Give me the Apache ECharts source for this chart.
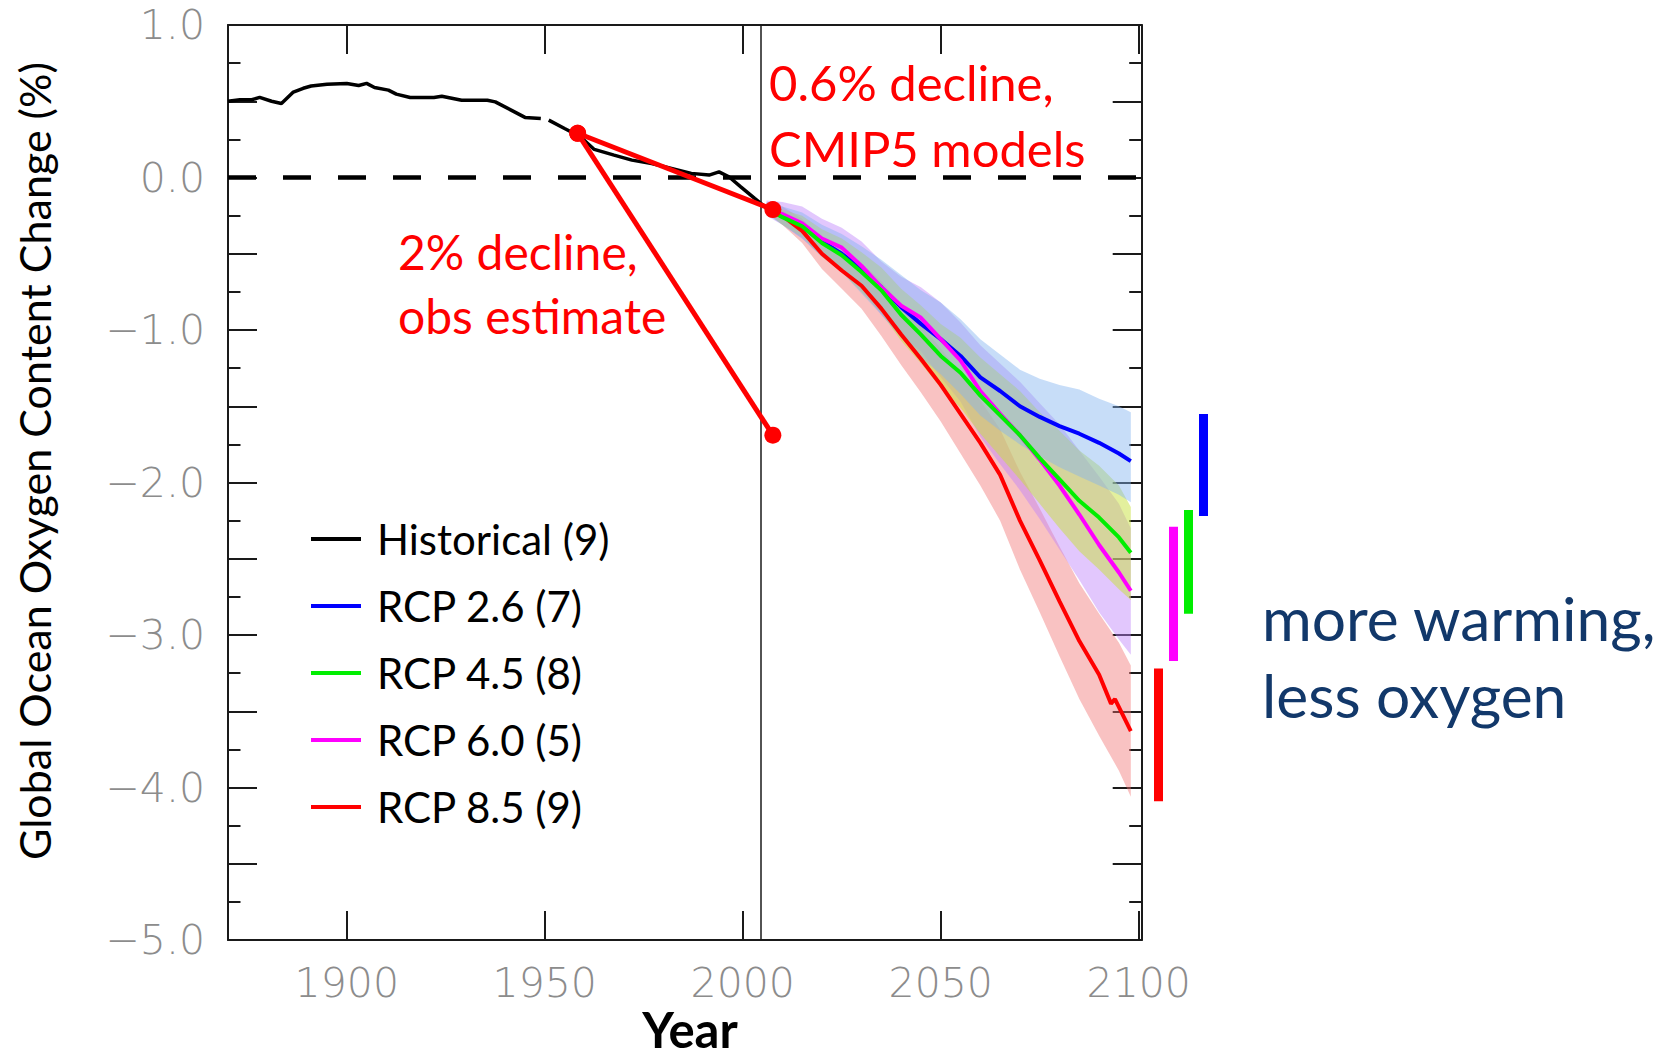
<!DOCTYPE html>
<html>
<head>
<meta charset="utf-8">
<title>Global Ocean Oxygen Content Change</title>
<script src="https://cdn.jsdelivr.net/npm/echarts@6/dist/echarts.min.js"></script>
<style>
  html, body { margin: 0; padding: 0; background: #ffffff; }
  #chart { width: 1666px; height: 1059px; }
</style>
</head>
<body>
<div id="chart"></div>
<script>
// ---- Historical multi-model mean (% change) ----
const histYears  = [1870, 1873, 1876, 1878, 1881, 1883.5, 1886.5, 1889, 1891, 1895, 1900, 1903, 1905, 1907,
                    1910.5, 1912.5, 1916, 1922, 1924, 1929, 1935.5, 1937.5, 1941.5, 1945, 1949, 1950,
                    1951, 1955, 1959, 1962.5, 1967.5, 1972, 1977, 1982, 1987, 1991.5, 1994, 1996.5, 1999.5, 2003, 2006];
const histValues = [0.50, 0.51, 0.51, 0.525, 0.50, 0.485, 0.56, 0.585, 0.60, 0.612, 0.617, 0.603, 0.617, 0.59,
                    0.573, 0.547, 0.525, 0.525, 0.533, 0.507, 0.507, 0.496, 0.442, 0.394, 0.387, null,
                    0.376, 0.321, 0.267, 0.184, 0.147, 0.114, 0.092, 0.06, 0.027, 0.016, 0.037, 0.005, -0.061, -0.137, -0.20];

// ---- RCP projections: mean and model spread ----
const projYears  = [2006, 2010, 2015, 2020, 2025, 2030, 2035, 2040, 2045, 2050, 2055, 2060, 2065, 2070, 2075, 2080, 2085, 2090, 2095, 2098];

const rcp26      = [-0.20, -0.25, -0.32, -0.42, -0.50, -0.60, -0.72, -0.85, -0.96, -1.06, -1.17, -1.31, -1.40, -1.50, -1.57, -1.63, -1.68, -1.74, -1.81, -1.86];
const rcp26Upper = [-0.16, -0.19, -0.23, -0.31, -0.37, -0.45, -0.54, -0.64, -0.74, -0.82, -0.93, -1.06, -1.16, -1.26, -1.32, -1.36, -1.39, -1.45, -1.50, -1.54];
const rcp26Lower = [-0.24, -0.31, -0.40, -0.52, -0.62, -0.76, -0.90, -1.05, -1.18, -1.29, -1.42, -1.56, -1.66, -1.75, -1.83, -1.90, -1.96, -2.02, -2.08, -2.13];

const rcp45      = [-0.20, -0.26, -0.32, -0.43, -0.51, -0.62, -0.74, -0.90, -1.03, -1.17, -1.28, -1.43, -1.56, -1.69, -1.84, -1.98, -2.12, -2.23, -2.36, -2.46];
const rcp45Upper = [-0.17, -0.21, -0.25, -0.34, -0.40, -0.49, -0.59, -0.73, -0.84, -0.96, -1.05, -1.18, -1.29, -1.40, -1.54, -1.66, -1.79, -1.89, -2.02, -2.16];
const rcp45Lower = [-0.23, -0.31, -0.39, -0.52, -0.62, -0.75, -0.89, -1.07, -1.22, -1.38, -1.51, -1.68, -1.83, -1.98, -2.14, -2.30, -2.45, -2.57, -2.70, -2.77];

const rcp60      = [-0.20, -0.24, -0.30, -0.40, -0.46, -0.58, -0.72, -0.84, -0.92, -1.06, -1.20, -1.40, -1.55, -1.69, -1.85, -2.02, -2.21, -2.41, -2.59, -2.71];
const rcp60Upper = [-0.15, -0.16, -0.19, -0.27, -0.33, -0.42, -0.55, -0.65, -0.72, -0.82, -0.95, -1.10, -1.22, -1.34, -1.48, -1.62, -1.79, -1.96, -2.14, -2.30];
const rcp60Lower = [-0.25, -0.31, -0.40, -0.52, -0.60, -0.74, -0.90, -1.04, -1.14, -1.31, -1.47, -1.70, -1.88, -2.05, -2.24, -2.44, -2.64, -2.85, -3.03, -3.13];

const rcp85Years = [2006, 2010, 2015, 2020, 2025, 2030, 2035, 2040, 2045, 2050, 2055, 2060, 2065, 2070, 2075, 2080, 2085, 2090, 2093, 2094, 2098];
const rcp85      = [-0.20, -0.25, -0.35, -0.50, -0.61, -0.71, -0.86, -1.03, -1.19, -1.36, -1.55, -1.74, -1.95, -2.25, -2.51, -2.78, -3.04, -3.26, -3.45, -3.42, -3.63];
const rcp85Upper = [-0.17, -0.19, -0.27, -0.40, -0.49, -0.56, -0.68, -0.83, -0.97, -1.12, -1.29, -1.46, -1.65, -1.93, -2.17, -2.42, -2.66, -2.86, -3.05, -3.20];
const rcp85Lower = [-0.23, -0.31, -0.43, -0.60, -0.73, -0.86, -1.04, -1.23, -1.41, -1.60, -1.81, -2.02, -2.25, -2.57, -2.85, -3.14, -3.42, -3.66, -3.89, -4.06];

// ---- Decline estimates (start / end points) ----
const obsStart = [1958.3, 0.29];
const modelEnd = [2007.6, -0.21];
const obsEnd   = [2007.6, -1.69];

// ---- Year-2100 model ranges beside the plot ----
const rangeScenarios = ['RCP 8.5', 'RCP 6.0', 'RCP 4.5', 'RCP 2.6'];
const rangeTop       = [-3.22, -2.29, -2.18, -1.55];
const rangeBottom    = [-4.09, -3.17, -2.86, -2.22];

// ---- Axis ticks ----
const xTickYears = [1900, 1950, 2000, 2050, 2100];
const historyEndYear = 2004.6;

const legendNames = ['Historical (9)', 'RCP 2.6 (7)', 'RCP 4.5 (8)', 'RCP 6.0 (5)', 'RCP 8.5 (9)'];

const COLORS = {
  hist: '#000000', rcp26: '#0000ff', rcp45: '#00ee00', rcp60: '#ff00ff', rcp85: '#ff0000'
};
const rangeColors = [COLORS.rcp85, COLORS.rcp60, COLORS.rcp45, COLORS.rcp26];

const zip = (xs, ys) => xs.map((x, i) => [x, ys[i] === null ? '-' : ys[i]]);

// Shaded spread drawn as a polygon in data coordinates
function bandSeries(upper, lower, fill) {
  return {
    type: 'custom',
    xAxisIndex: 0, yAxisIndex: 0,
    silent: true,
    z: 1,
    data: [[projYears[0], upper[0]]],
    renderItem: function (params, api) {
      const pts = [];
      for (let i = 0; i < projYears.length; i++) pts.push(api.coord([projYears[i], upper[i]]));
      for (let i = projYears.length - 1; i >= 0; i--) pts.push(api.coord([projYears[i], lower[i]]));
      return { type: 'polygon', shape: { points: pts }, style: { fill: fill, stroke: null } };
    }
  };
}

const axisColor = '#1a1a1a';
const tickLabelStyle = {
  color: '#8c8c8c', fontSize: 41,
  fontFamily: "'DejaVu Sans ExtraLight', 'DejaVu Sans', sans-serif", fontWeight: 200
};

const yLabel = v => Number.isInteger(v) ? (v < 0 ? '\u2212' : '') + Math.abs(v).toFixed(1) : '';
const xLabel = v => String(v);

const frameAxisLine = { onZero: false, lineStyle: { color: axisColor, width: 2 } };

const chart = echarts.init(document.getElementById('chart'), null, { renderer: 'svg' });

const option = {
  animation: false,
  backgroundColor: '#ffffff',
  grid: [
    { left: 228, top: 25, width: 913.7, height: 915 },
    { left: 1151, top: 25, width: 60, height: 915 }
  ],
  xAxis: [
    {
      type: 'value', gridIndex: 0, min: 1870, max: 2100.75, position: 'bottom',
      axisLine: frameAxisLine,
      axisTick: { inside: true, length: 29, customValues: xTickYears, lineStyle: { color: axisColor, width: 2 } },
      axisLabel: Object.assign({ customValues: xTickYears, formatter: xLabel, margin: 22 }, tickLabelStyle),
      splitLine: { show: false }
    },
    {
      type: 'value', gridIndex: 0, min: 1870, max: 2100.75, position: 'top',
      axisLine: frameAxisLine,
      axisTick: { inside: true, length: 29, customValues: xTickYears, lineStyle: { color: axisColor, width: 2 } },
      axisLabel: { show: false },
      splitLine: { show: false }
    },
    { type: 'category', gridIndex: 1, data: rangeScenarios, show: false }
  ],
  yAxis: [
    {
      type: 'value', gridIndex: 0, min: -5, max: 1, interval: 0.5, position: 'left',
      axisLine: Object.assign({ show: true }, frameAxisLine),
      axisTick: { show: true, inside: true, length: 29, lineStyle: { color: axisColor, width: 2 } },
      minorTick: { show: true, splitNumber: 2, length: 12.5, lineStyle: { color: axisColor, width: 2 } },
      axisLabel: Object.assign({ formatter: yLabel, margin: 23 }, tickLabelStyle),
      splitLine: { show: false }, minorSplitLine: { show: false }
    },
    {
      type: 'value', gridIndex: 0, min: -5, max: 1, interval: 0.5, position: 'right',
      axisLine: Object.assign({ show: true }, frameAxisLine),
      axisTick: { show: true, inside: true, length: 29, lineStyle: { color: axisColor, width: 2 } },
      minorTick: { show: true, splitNumber: 2, length: 12.5, lineStyle: { color: axisColor, width: 2 } },
      axisLabel: { show: false },
      splitLine: { show: false }, minorSplitLine: { show: false }
    },
    { type: 'value', gridIndex: 1, min: -5, max: 1, show: false }
  ],
  legend: {
    data: legendNames,
    orient: 'vertical',
    left: 306, top: 512,
    icon: 'rect', itemWidth: 50, itemHeight: 4, itemGap: 23,
    selectedMode: false,
    textStyle: { fontSize: 42, lineHeight: 44, fontFamily: 'Lato', color: '#000000', padding: [0, 0, 0, 11] }
  },
  series: [
    bandSeries(rcp85Upper, rcp85Lower, 'rgba(240,110,110,0.42)'),
    bandSeries(rcp60Upper, rcp60Lower, 'rgba(190,130,250,0.45)'),
    bandSeries(rcp45Upper, rcp45Lower, 'rgba(200,225,60,0.50)'),
    bandSeries(rcp26Upper, rcp26Lower, 'rgba(130,180,240,0.45)'),
    {
      name: legendNames[0], type: 'line', xAxisIndex: 0, yAxisIndex: 0,
      data: zip(histYears, histValues), connectNulls: false,
      symbol: 'none', color: COLORS.hist, lineStyle: { width: 3.5, color: COLORS.hist }, z: 3,
      markLine: {
        silent: true, symbol: 'none', label: { show: false },
        lineStyle: { type: [28, 27], width: 4.5, color: '#000000' },
        data: [{ yAxis: 0 }]
      }
    },
    {
      name: legendNames[1], type: 'line', data: zip(projYears, rcp26),
      symbol: 'none', color: COLORS.rcp26, lineStyle: { width: 4, color: COLORS.rcp26 }, z: 4,
      markLine: {
        silent: true, symbol: 'none', label: { show: false },
        lineStyle: { type: 'solid', width: 1.5, color: '#1a1a1a' },
        data: [{ xAxis: historyEndYear }]
      }
    },
    {
      name: legendNames[4], type: 'line', data: zip(rcp85Years, rcp85),
      symbol: 'none', color: COLORS.rcp85, lineStyle: { width: 4, color: COLORS.rcp85 }, z: 4
    },
    {
      name: legendNames[3], type: 'line', data: zip(projYears, rcp60),
      symbol: 'none', color: COLORS.rcp60, lineStyle: { width: 4, color: COLORS.rcp60 }, z: 4
    },
    {
      name: legendNames[2], type: 'line', data: zip(projYears, rcp45),
      symbol: 'none', color: COLORS.rcp45, lineStyle: { width: 4, color: COLORS.rcp45 }, z: 4
    },
    {
      name: 'obs decline', type: 'line', data: [obsStart, obsEnd],
      symbol: 'circle', symbolSize: 17, color: '#ff0000',
      lineStyle: { width: 5, color: '#ff0000' }, itemStyle: { color: '#ff0000' }, z: 10
    },
    {
      name: 'model decline', type: 'line', data: [obsStart, modelEnd],
      symbol: 'circle', symbolSize: 17, color: '#ff0000',
      lineStyle: { width: 5, color: '#ff0000' }, itemStyle: { color: '#ff0000' }, z: 10
    },
    {
      name: 'ranges', type: 'custom', xAxisIndex: 2, yAxisIndex: 2, silent: true,
      data: rangeScenarios.map((s, i) => [i, rangeTop[i], rangeBottom[i]]),
      encode: { x: 0, y: [1, 2] },
      renderItem: function (params, api) {
        const a = api.coord([api.value(0), api.value(1)]);
        const b = api.coord([api.value(0), api.value(2)]);
        return {
          type: 'rect',
          shape: { x: a[0] - 4.5, y: a[1], width: 9, height: b[1] - a[1] },
          style: { fill: rangeColors[params.dataIndex] }
        };
      }
    }
  ],
  graphic: [
    {
      type: 'text', x: 34, y: 461, rotation: Math.PI / 2,
      style: { text: 'Global Ocean Oxygen Content Change (%)', align: 'center', verticalAlign: 'middle',
               fontSize: 43, fontFamily: 'Lato', fill: '#000000' }
    },
    {
      type: 'text', x: 690, y: 1029,
      style: { text: 'Year', align: 'center', verticalAlign: 'middle',
               fontSize: 49, fontWeight: 'bold', fontFamily: 'Lato', fill: '#000000' }
    },
    {
      type: 'text', x: 769, y: 49, z: 20,
      style: { text: '0.6% decline,\nCMIP5 models', fontSize: 49, lineHeight: 66,
               fontFamily: 'Lato', fill: '#ff0000' }
    },
    {
      type: 'text', x: 398, y: 219, z: 20,
      style: { text: '2% decline,\nobs estimate', fontSize: 48, lineHeight: 64,
               fontFamily: 'Lato', fill: '#ff0000' }
    },
    {
      type: 'text', x: 1262, y: 579, z: 20,
      style: { text: 'more warming,\nless oxygen', fontSize: 60.5, lineHeight: 77,
               fontFamily: 'Lato', fill: '#12386a' }
    }
  ]
};

chart.setOption(option);
</script>
</body>
</html>
